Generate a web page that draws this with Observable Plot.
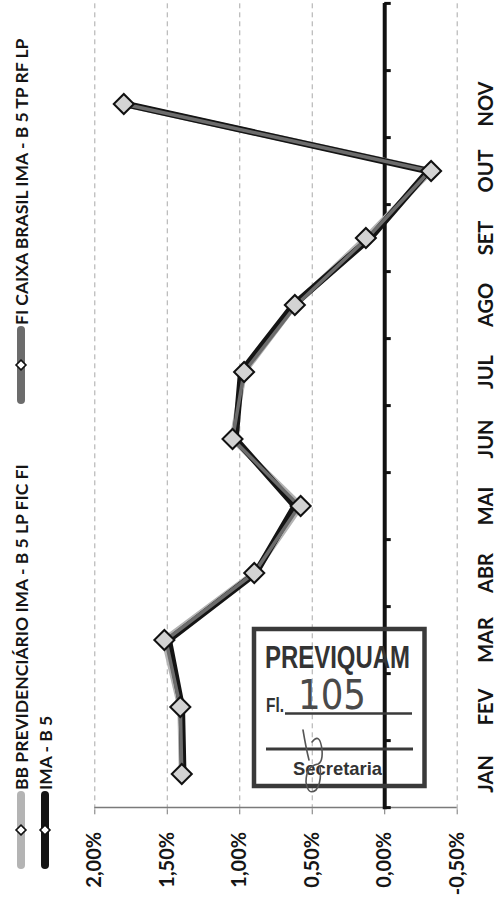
<!DOCTYPE html>
<html>
<head>
<meta charset="utf-8">
<script src="https://cdn.jsdelivr.net/npm/d3@7"></script>
<script src="https://cdn.jsdelivr.net/npm/@observablehq/plot@0.6"></script>
<style>
  html, body { margin: 0; padding: 0; background: #fff; }
  #page { position: relative; width: 500px; height: 901px; overflow: hidden; background: #fff; }
  #chart { position: absolute; left: 0; top: 0; width: 901px; height: 500px;
           transform-origin: 0 0; transform: translateY(901px) rotate(-90deg); background: #fff; }
  #legend { position: relative; width: 901px; height: 60px; font-family: Lato, sans-serif;
            font-weight: 700; font-size: 17.5px; color: #151515; }
  .item { position: absolute; display: flex; align-items: center; height: 20px; white-space: nowrap; }
  .item svg { display: block; }
  #plot svg { display: block; }
  #plot g[aria-label="y-axis"] line, #plot g[aria-label="y-axis tick"] path { stroke: #777; }
  #plot g[aria-label^="x-axis"] text { font-size: 20px; }
  #stamp { position: absolute; left: 0; top: 0; pointer-events: none; }
</style>
</head>
<body>
<div id="page">
  <div id="chart">
    <div id="legend"></div>
    <div id="plot"></div>
  </div>
</div>
<script>
// ---- data ----
const months = ["JAN", "FEV", "MAR", "ABR", "MAI", "JUN", "JUL", "AGO", "SET", "OUT", "NOV", ""];
const seriesNames = [
  "BB PREVIDENCIÁRIO IMA - B 5 LP FIC FI",
  "FI CAIXA BRASIL IMA - B 5 TP RF LP",
  "IMA - B 5"
];
const bbValues    = [1.40, 1.41, 1.52, 0.90, 0.58, 1.05, 0.97, 0.62, 0.13, -0.32, 1.80];
const caixaValues = [1.40, 1.41, 1.51, 0.90, 0.59, 1.05, 0.97, 0.61, 0.12, -0.31, 1.80];
const imaValues   = [1.39, 1.40, 1.49, 0.89, 0.62, 1.03, 0.99, 0.63, 0.10, -0.30, 1.79];
const yTicks = [-0.5, 0, 0.5, 1, 1.5, 2];
const gridTicks = [-0.5, 0.5, 1, 1.5, 2];
const colors = ["#b4b4b4", "#6c6c6c", "#141414"];

const toRows = (vals, s) => vals.map((v, i) => ({month: months[i], value: v, series: s}));
const bbRows = toRows(bbValues, seriesNames[0]);
const caixaRows = toRows(caixaValues, seriesNames[1]);
const imaRows = toRows(imaValues, seriesNames[2]);

// ---- legend ----
const legend = document.getElementById("legend");
const legendSpots = [
  {i: 0, left: 31, top: 11},
  {i: 1, left: 496, top: 11},
  {i: 2, left: 31, top: 35}
];
for (const {i, left, top} of legendSpots) {
  const div = document.createElement("div");
  div.className = "item";
  div.style.left = left + "px";
  div.style.top = top + "px";
  div.innerHTML =
    `<svg width="80" height="20"><line x1="5" y1="10" x2="75" y2="10" stroke="${colors[i]}" stroke-width="8" stroke-linecap="round"/>` +
    `<rect x="36.5" y="6.5" width="7" height="7" transform="rotate(45 40 10)" fill="#fff" stroke="#111" stroke-width="1.6"/></svg>` +
    `<span>${seriesNames[i]}</span>`;
  legend.appendChild(div);
}

// ---- plot ----
const W = 901, H = 440, ML = 91.7, MR = 3, MT = 34.3, MB = 43.3;
const bw = (W - ML - MR) / months.length;
const fmt = d => d.toFixed(2).replace(".", ",") + "%";

const chart = Plot.plot({
  width: W, height: H,
  marginLeft: ML, marginRight: MR, marginTop: MT, marginBottom: MB,
  style: {fontFamily: "Lato, sans-serif", fontSize: "20px", fontWeight: 700, color: "#151515", background: "#fff", overflow: "visible"},
  x: {type: "band", domain: months, padding: 0, tickSize: 0, tickPadding: 22, label: null},
  y: {domain: [-0.5, 2], ticks: yTicks, tickFormat: fmt, tickSize: 5, tickPadding: 18, label: null},
  marks: [
    Plot.ruleY(gridTicks, {stroke: "#a9a9a9", strokeWidth: 1, strokeDasharray: "5,4"}),
    Plot.ruleX([months[0]], {dx: -bw / 2, stroke: "#7a7a7a", strokeWidth: 1.5}),
    Plot.ruleY([0], {stroke: "#111", strokeWidth: 4}),
    Plot.ruleX(months, {x: d => d, y1: 0, y2: -0.045, dx: -bw / 2, stroke: "#111", strokeWidth: 3}),
    Plot.ruleX([months[months.length - 1]], {x: d => d, y1: 0, y2: -0.045, dx: bw / 2, stroke: "#111", strokeWidth: 3}),
    Plot.line(bbRows, {x: "month", y: "value", stroke: colors[0], strokeWidth: 6, strokeLinejoin: "round", strokeLinecap: "round"}),
    Plot.line(imaRows, {x: "month", y: "value", stroke: colors[2], strokeWidth: 6.5, strokeLinejoin: "round", strokeLinecap: "round"}),
    Plot.line(caixaRows, {x: "month", y: "value", stroke: colors[1], strokeWidth: 3.5, strokeLinejoin: "round", strokeLinecap: "round"}),
    Plot.dot(bbRows, {x: "month", y: "value", symbol: "square", r: 8, rotate: 45, fill: "#d3d3d3", stroke: "#111", strokeWidth: 2})
  ]
});
document.getElementById("plot").appendChild(chart);

// ---- stamp (upright, on top of the rotated page) ----
const ns = "http://www.w3.org/2000/svg";
const page = document.getElementById("page");
const stamp = document.createElementNS(ns, "svg");
stamp.setAttribute("id", "stamp");
stamp.setAttribute("width", 500);
stamp.setAttribute("height", 901);
stamp.innerHTML = `
  <g fill="none" stroke="#3a3a3a">
    <rect x="254" y="629" width="170.5" height="157" stroke-width="4.5"/>
    <line x1="285" y1="713.5" x2="412" y2="713.5" stroke-width="2.5"/>
    <line x1="266" y1="749" x2="413" y2="749" stroke-width="3"/>
  </g>
  <g fill="#333" font-family="Liberation Sans, Arial, sans-serif" font-weight="700">
    <text x="265" y="668" font-size="31" textLength="145" lengthAdjust="spacingAndGlyphs">PREVIQUAM</text>
    <text x="266" y="712" font-size="20" textLength="18" lengthAdjust="spacingAndGlyphs">Fl.</text>
    <text x="293" y="775" font-size="19" textLength="89" lengthAdjust="spacingAndGlyphs">Secretaria</text>
  </g>
  <text x="298" y="709" font-family="DejaVu Sans, sans-serif" font-weight="400" font-size="40" fill="#4a4a4a" textLength="68" lengthAdjust="spacingAndGlyphs">105</text>
  <path d="M303,730 q3,18 6,30 M312,742 q8,-10 10,8 q1,12 -4,14 q-12,2 -12,18 q2,14 10,8 q6,-8 4,-24" fill="none" stroke="#555" stroke-width="1.6" stroke-linecap="round"/>
`;
page.appendChild(stamp);
</script>
</body>
</html>
